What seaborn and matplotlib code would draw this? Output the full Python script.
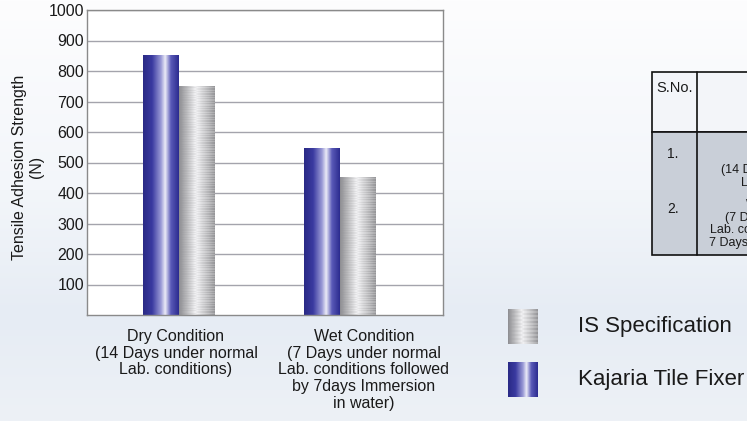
import numpy as np
import pandas as pd
import matplotlib
import matplotlib.pyplot as plt
import matplotlib.transforms as mtransforms
from matplotlib.colors import LinearSegmentedColormap
from matplotlib.patches import Rectangle
import seaborn as sns

# data
conditions = ['Dry Condition\n(14 Days under normal\nLab. conditions)',
              'Wet Condition\n(7 Days under normal\nLab. conditions followed\nby 7days Immersion\nin water)']
series = ['Kajaria Tile Fixer', 'IS Specification']
kajaria = [850, 545]
is_spec = [750, 450]
y_ticks = [100, 200, 300, 400, 500, 600, 700, 800, 900, 1000]

df = pd.DataFrame({
    'Condition': conditions * 2,
    'Product': [series[0]] * 2 + [series[1]] * 2,
    'Strength': kajaria + is_spec,
})

sns.set_style('white')
plt.rcParams['font.family'] = ['Liberation Sans', 'DejaVu Sans']

W, H = 747, 421
fig = plt.figure(figsize=(W / 100, H / 100), dpi=100)

# pale page background
bg = fig.add_axes([0, 0, 1, 1], zorder=-5)
bg_cmap = LinearSegmentedColormap.from_list('bg', [(0, '#fdfdfe'), (0.45, '#f3f6fa'), (0.75, '#e6ecf4'), (1, '#edf1f6')])
bg.imshow(np.linspace(0, 1, 200)[:, None], cmap=bg_cmap, aspect='auto', extent=[0, 1, 0, 1])
bg.axis('off')


def fx(px):
    return px / W


def fy(py):
    return 1 - py / H


ax = fig.add_axes([fx(87), fy(315), fx(443) - fx(87), fy(10) - fy(315)])
ax.set_facecolor('white')

sns.barplot(data=df, x='Condition', y='Strength', hue='Product', hue_order=series,
            palette=['#2e2e8e', '#aaaaaa'], saturation=1, width=0.447, legend=False, ax=ax)

blue_cmap = LinearSegmentedColormap.from_list(
    'blue', [(0, '#2a2a86'), (0.25, '#3a3aa0'), (0.5, '#9a9ad6'), (0.62, '#ececf8'), (0.78, '#5a5ab8'), (1, '#2c2c90')])
grey_cmap = LinearSegmentedColormap.from_list(
    'grey', [(0, '#8e8e92'), (0.25, '#c4c4c6'), (0.45, '#f0f0f2'), (0.7, '#c8c8ca'), (1, '#959598')])


def gradient(n_rows, stripes):
    g = np.tile(np.linspace(0, 1, 100), (n_rows, 1))
    if stripes:
        g = g * (1 - 0.12 * (np.arange(n_rows) % 2)[:, None])
    return g


def fill_bar(axes, patch, cmap, stripes):
    x0, y0 = patch.get_x(), patch.get_y()
    w, h = patch.get_width(), patch.get_height()
    rows = max(int(h / 4), 2)
    axes.imshow(gradient(rows, stripes), cmap=cmap, vmin=0, vmax=1, aspect='auto',
                extent=[x0, x0 + w, y0, y0 + h], zorder=patch.get_zorder() + 0.1,
                interpolation='bilinear' if not stripes else 'nearest')
    patch.set_alpha(0)


bars = list(ax.patches)
for p in bars:
    is_blue = p.get_facecolor()[2] > p.get_facecolor()[0] + 0.1
    fill_bar(ax, p, blue_cmap if is_blue else grey_cmap, not is_blue)

ax.set_xlim(-0.571, 1.64)
ax.set_ylim(0, 1000)
ax.set_yticks(y_ticks)
ax.tick_params(axis='y', length=0, pad=2, labelsize=11.5, labelcolor='#1a1a1a')
ax.tick_params(axis='x', length=0, pad=10, labelsize=11.5, labelcolor='#1a1a1a')
for lbl in ax.get_xticklabels():
    lbl.set_linespacing(1.15)
xt = ax.get_xticklabels()
xt[0].set_transform(xt[0].get_transform() + mtransforms.ScaledTranslation(-0.03, 0, fig.dpi_scale_trans))
xt[1].set_transform(xt[1].get_transform() + mtransforms.ScaledTranslation(0.24, 0, fig.dpi_scale_trans))
ax.set_xlabel('')
ax.set_ylabel('')
ax.yaxis.grid(True, color='#a4a4ac', lw=1)
ax.set_axisbelow(True)
for s in ax.spines.values():
    s.set_color('#8a8a8a')
    s.set_linewidth(1)
    s.set_visible(True)

fig.text(fx(28), fy(167), 'Tensile Adhesion Strength\n(N)', rotation=90, ha='center', va='center',
         fontsize=11.5, color='#1a1a1a', linespacing=1.2)

# legend drawn by hand so the swatches can carry the gradients
for (top, bottom), cmap, stripes, label in [((309, 344), grey_cmap, True, series[1]),
                                             ((362, 397), blue_cmap, False, series[0])]:
    sw = fig.add_axes([fx(508), fy(bottom), fx(538) - fx(508), fy(top) - fy(bottom)])
    sw.imshow(gradient(18 if stripes else 2, stripes), cmap=cmap, vmin=0, vmax=1, aspect='auto',
              interpolation='nearest' if stripes else 'bilinear')
    sw.axis('off')
    fig.text(fx(578), fy((top + bottom) / 2), label, ha='left', va='center', fontsize=16, color='#1a1a1a')

# part of a table cut off at the right page edge (as in the reference)
fig.patches.append(Rectangle((fx(652), fy(132)), fx(800) - fx(652), fy(72) - fy(132),
                             transform=fig.transFigure, facecolor='#f3f5f9', edgecolor='#111111', lw=1.2))
fig.patches.append(Rectangle((fx(652), fy(255)), fx(800) - fx(652), fy(132) - fy(255),
                             transform=fig.transFigure, facecolor='#c9cfd8', edgecolor='#111111', lw=1.2))
fig.lines.append(plt.Line2D([fx(697), fx(697)], [fy(72), fy(255)], transform=fig.transFigure,
                            color='#111111', lw=1.2))
fig.text(fx(656), fy(88), 'S.No.', ha='left', va='center', fontsize=10.5, color='#1a1a1a')
fig.text(fx(667), fy(154), '1.', ha='left', va='center', fontsize=10, color='#1a1a1a')
fig.text(fx(667), fy(209), '2.', ha='left', va='center', fontsize=10, color='#1a1a1a')
fig.text(fx(785), fy(170), 'Dry Condition\n(14 Days under normal\nLab. conditions)', ha='center', va='center',
         fontsize=9, color='#1a1a1a', linespacing=1.1)
fig.text(fx(785), fy(224), 'Wet Condition\n(7 Days under normal\nLab. conditions followed by\n7 Days Immersion in water)',
         ha='center', va='center', fontsize=9, color='#1a1a1a', linespacing=1.1)

fig.savefig('out.png', dpi=100)
